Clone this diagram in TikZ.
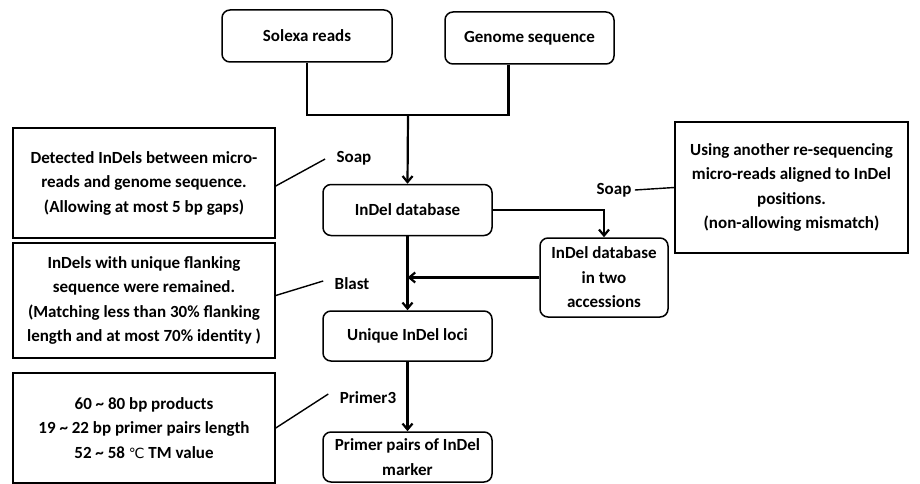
\documentclass[tikz,border=0pt]{standalone}
\usepackage{fontspec}
\setmainfont{Carlito}
\newfontfamily\symfont{DejaVu Sans}
\usetikzlibrary{arrows.meta}

\begin{document}
\begin{tikzpicture}[x=1pt, y=-1pt, >={Straight Barb[length=6pt,width=10pt]},
    font=\bfseries\fontsize{17}{24.5}\selectfont]
    \tikzset{
        flowbox/.style={draw, rounded corners=8pt, line width=1.5pt, align=center, inner sep=1pt},
        notebox/.style={draw, line width=1.5pt, align=center, inner sep=1pt},
        conn/.style={line width=2.2pt},
        leader/.style={line width=1.4pt},
    }
    \useasboundingbox (0,0) rectangle (920,484);

    % Kết quả chính của quy trình
    \node[flowbox, minimum width=170pt, minimum height=52pt] (solexa) at (307,36) {Solexa reads};
    \node[flowbox, minimum width=169pt, minimum height=52pt] (genome) at (529.5,38) {Genome sequence};
    \node[flowbox, minimum width=169pt, minimum height=51pt] (indeldb) at (407.5,210) {InDel database};
    \node[flowbox, minimum width=128pt, minimum height=79pt] (twoacc) at (604,277.5) {InDel database\\in two\\accessions};
    \node[flowbox, minimum width=169pt, minimum height=50pt] (unique) at (407.5,336) {Unique InDel loci};
    \node[flowbox, minimum width=169pt, minimum height=50pt] (primer) at (407.5,457) {Primer pairs of InDel\\marker};

    % Hộp ghi chú
    \node[notebox, minimum width=262pt, minimum height=110pt] (noteA) at (144,183)
        {Detected InDels between micro-\\reads and genome sequence.\\(Allowing at most 5 bp gaps)};
    \node[notebox, minimum width=262pt, minimum height=115pt] (noteB) at (144,300.5)
        {InDels with unique flanking\\sequence were remained.\\(Matching less than 30\% flanking\\length and at most 70\% identity )};
    \node[notebox, minimum width=262pt, minimum height=110pt] (noteC) at (144,428)
        {60 \textasciitilde{} 80 bp products\\19 \textasciitilde{} 22 bp primer pairs length\\52 \textasciitilde{} 58 {\symfont\mdseries\fontsize{14}{24}\selectfont ℃} TM value};
    \node[notebox, minimum width=233pt, minimum height=131pt] (noteD) at (791.5,187.5)
        {Using another re-sequencing\\micro-reads aligned to InDel\\positions.\\(non-allowing mismatch)};

    % Nhãn công cụ
    \node (soapA) at (354,158) {Soap};
    \node (soapB) at (614,190) {Soap};
    \node (blast) at (352,284) {Blast};
    \node (primerlbl) at (368,398) {Primer3};

    % Mũi tên nối
    \coordinate (merge) at (408,115);
    \draw[conn] (solexa.south) |- (merge);
    \draw[conn] ([xshift=-21pt]genome.south) |- (merge);
    \draw[conn, ->] (merge) -- (indeldb.north);
    \draw[conn, ->] (indeldb.east) -| (twoacc.north);
    \draw[conn, ->] (indeldb.south) -- (unique.north);
    \draw[conn, ->] (twoacc.west) -- (twoacc.west -| indeldb.south);
    \draw[conn, ->] (unique.south) -- (primer.north);

    % Đường dẫn ghi chú
    \draw[leader] ([yshift=-3pt]noteA.east) -- ([xshift=-8pt,yshift=-1pt]soapA.west);
    \draw[leader] ([yshift=5pt]noteB.east) -- ([xshift=-8pt,yshift=3pt]blast.west);
    \draw[leader] (noteC.east) -- ([xshift=-8pt,yshift=4pt]primerlbl.west);
    \draw[leader] (soapB.east) -- (noteD.west);
\end{tikzpicture}
\end{document}
